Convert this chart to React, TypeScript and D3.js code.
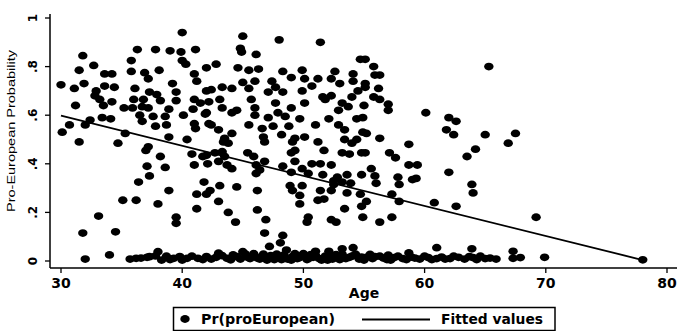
import React from 'react'
import * as d3 from 'd3'

// upper cluster, ages 30-42
const upperYoung: [number, number][] = [
  [40.0, .94], [36.3, .87], [37.8, .87], [39.0, .865], [39.9, .86], [41.1, .87], [31.8, .845], [40.0, .825],
  [40.3, .81], [35.8, .825], [32.7, .805], [42.0, .795], [31.5, .785], [35.8, .78], [36.9, .775], [38.1, .785],
  [33.6, .77], [34.2, .77], [41.0, .77], [37.2, .75], [41.2, .74], [30.0, .725], [31.9, .73], [31.1, .71],
  [33.6, .72], [34.4, .715], [36.1, .71], [39.2, .73], [32.9, .70], [37.3, .695], [39.5, .695], [42.0, .70],
  [32.8, .68], [37.9, .685], [33.2, .665], [36.0, .665], [36.8, .665], [38.2, .66], [39.5, .66], [41.0, .665],
  [41.5, .65], [34.2, .655], [33.5, .64], [31.2, .64], [35.2, .63], [35.9, .63], [36.7, .635], [37.2, .63],
  [38.9, .625], [40.9, .625], [41.9, .605], [36.5, .60], [37.6, .595], [38.6, .595], [40.1, .60], [33.4, .59],
  [34.1, .585], [32.4, .58], [32.0, .56], [30.7, .56], [36.7, .575], [37.8, .555], [38.7, .56], [41.0, .565],
  [41.1, .545], [42.2, .565], [30.1, .53], [35.3, .525], [38.9, .51], [40.4, .50], [31.5, .49], [34.7, .485]
]

// upper cluster, ages 42-55
const upperMiddle: [number, number][] = [
  [45.0, .925], [48.0, .91], [51.4, .90], [44.8, .875], [44.9, .86], [46.1, .85], [54.7, .83], [42.8, .81],
  [44.6, .795], [45.5, .785], [46.3, .79], [48.3, .78], [49.9, .785], [52.6, .78], [54.1, .77], [47.4, .74],
  [49.0, .755], [50.1, .75], [51.2, .75], [52.3, .75], [45.0, .735], [46.0, .74], [54.1, .74], [53.0, .73],
  [42.4, .705], [43.3, .715], [44.1, .71], [45.5, .71], [47.7, .715], [50.7, .72], [47.1, .695], [48.3, .695],
  [49.9, .70], [54.5, .70], [51.6, .675], [51.8, .665], [52.3, .68], [54.0, .675], [42.2, .655], [43.1, .665],
  [45.7, .665], [47.7, .65], [50.1, .65], [53.2, .65], [43.3, .63], [44.5, .62], [46.0, .63], [49.0, .63],
  [53.7, .635], [52.9, .62], [42.0, .61], [44.1, .61], [46.0, .60], [47.9, .61], [47.1, .59], [48.5, .595],
  [49.7, .585], [52.1, .585], [54.4, .585], [42.4, .56], [45.5, .56], [46.6, .545], [47.5, .555], [48.8, .555],
  [51.0, .56], [52.9, .56], [53.4, .54], [54.9, .53], [43.0, .54], [44.1, .525], [43.5, .505], [46.7, .51],
  [48.2, .52], [49.3, .505], [50.1, .51], [51.2, .49], [53.4, .50], [54.4, .50]
]

// upper cluster, ages 55+
const upperOld: [number, number][] = [
  [55.1, .83], [55.8, .80], [55.9, .765], [56.3, .765], [55.1, .73], [55.1, .715], [56.2, .71], [65.3, .80],
  [55.8, .675], [56.3, .665], [57.0, .645], [57.0, .62], [55.0, .64], [54.9, .59], [60.1, .61], [62.0, .59],
  [62.6, .575], [61.8, .54], [62.4, .52], [65.0, .52], [67.5, .525], [66.9, .485], [55.2, .525], [56.3, .505],
  [58.7, .48], [64.2, .46], [63.5, .43]
]

// lower half, below .5
const lowerYoung: [number, number][] = [
  [37.2, .47], [37.0, .455], [38.2, .43], [40.8, .44], [41.7, .43], [37.1, .39], [38.6, .385], [41.0, .395],
  [42.1, .40], [37.3, .35], [36.4, .325], [41.8, .325], [38.9, .29], [41.2, .275], [42.0, .275], [35.1, .25],
  [36.2, .25], [38.0, .235], [41.2, .215], [33.1, .185], [39.5, .18], [39.5, .155], [31.8, .115], [34.5, .12]
]

const lowerMiddle: [number, number][] = [
  [43.4, .49], [43.8, .485], [46.8, .49], [49.1, .49], [51.7, .455], [54.0, .485], [42.0, .435], [42.7, .445],
  [43.3, .45], [43.5, .43], [45.4, .445], [45.9, .43], [49.0, .445], [49.3, .455], [53.2, .445], [53.8, .44],
  [54.8, .445], [43.0, .41], [43.7, .395], [44.1, .38], [46.1, .395], [46.8, .41], [46.4, .375], [48.3, .39],
  [49.3, .41], [49.9, .38], [50.7, .40], [51.4, .40], [52.3, .395], [49.0, .365], [50.4, .36], [51.6, .355],
  [52.8, .345], [53.6, .355], [54.8, .355], [46.1, .36], [52.5, .33], [52.5, .315], [53.2, .325], [53.9, .32],
  [43.1, .31], [44.5, .305], [48.9, .31], [49.9, .31], [42.3, .29], [46.2, .29], [49.1, .29], [51.4, .29],
  [52.3, .29], [53.6, .28], [54.7, .275], [49.7, .27], [43.0, .245], [51.2, .25], [51.7, .255], [49.7, .235],
  [53.4, .215], [54.8, .225], [43.8, .20], [46.2, .21], [50.4, .18], [50.3, .16], [52.3, .17], [52.7, .16],
  [44.4, .16], [46.9, .17], [46.8, .115], [48.3, .105], [47.2, .06], [48.1, .075], [54.9, .18], [51.0, .04],
  [52.1, .04], [53.2, .05], [54.1, .055]
]

const lowerOld: [number, number][] = [
  [57.1, .445], [57.6, .425], [55.1, .445], [58.7, .395], [59.4, .395], [55.6, .38], [55.9, .35], [56.0, .32],
  [57.8, .345], [57.9, .315], [59.0, .335], [59.3, .34], [62.0, .365], [63.9, .315], [64.0, .28], [57.3, .275],
  [57.9, .245], [55.2, .245], [60.8, .24], [62.6, .225], [56.3, .16], [57.3, .18], [61.0, .055], [63.9, .05],
  [67.3, .04], [69.2, .18], [78.0, .005], [69.9, .015]
]

// near-zero floor
const floorPoints: [number, number][] = [
  [32.0, .008], [34.0, .025], [35.7, .008], [36.2, .011], [37.1, .015], [37.3, .018], [37.8, .021], [38.0, .038],
  [38.3, .004], [39.3, .011], [39.8, .018], [40.4, .011], [41.3, .011], [42.0, .018], [42.8, .015], [43.0, .032],
  [43.7, .011], [44.5, .018], [45.0, .038], [45.2, .029], [45.6, .01], [46.0, .02], [46.4, .008], [46.9, .015],
  [47.3, .022], [47.6, .006], [48.0, .014], [48.4, .025], [48.6, .045], [48.7, .008], [49.1, .018], [49.5, .01],
  [49.9, .022], [50.3, .006], [50.8, .015], [51.3, .01], [51.8, .02], [52.4, .008], [52.9, .016], [53.5, .01],
  [54.0, .02], [54.6, .008], [55.2, .015], [55.7, .01], [56.3, .02], [56.9, .006], [57.5, .014], [58.2, .01],
  [58.7, .033], [58.9, .016], [59.6, .008], [60.3, .014], [61.0, .01], [61.4, .016], [62.1, .01], [62.8, .015],
  [63.3, .008], [64.0, .014], [64.6, .02], [65.0, .01], [65.4, .012], [65.9, .008], [67.3, .011], [67.9, .014],
  [44.0, .005], [45.9, .03], [47.0, .004], [49.3, .03], [50.6, .026], [52.0, .004], [53.2, .028], [55.5, .027],
  [57.0, .024]
]

const floorExtra: [number, number][] = [
  [36.6, .012], [38.7, .02], [39.0, .006], [40.0, .004], [40.8, .02], [41.7, .006], [42.4, .008], [43.3, .022],
  [44.2, .025], [44.8, .008], [45.4, .015], [46.2, .012], [46.7, .028], [47.8, .028], [48.2, .006], [49.0, .004],
  [49.7, .014], [50.0, .03], [50.5, .012], [51.0, .024], [51.5, .004], [52.2, .018], [52.7, .026], [53.0, .006],
  [53.8, .015], [54.3, .028], [54.8, .016], [55.0, .004], [55.9, .018], [56.6, .012], [57.2, .004], [57.8, .02],
  [58.5, .006], [59.2, .012], [60.0, .02], [60.6, .006], [61.7, .008], [62.4, .02], [63.7, .018], [64.3, .006]
]

// fitted line end points
const fitAges = [30, 78]
const fitValues = [0.598, 0.004]

const xTicks = [30, 40, 50, 60, 70, 80]
const yTicks = [0, 0.2, 0.4, 0.6, 0.8, 1]
const yTickLabels = ['0', '.2', '.4', '.6', '.8', '1']

const W = 677
const H = 331
const axisX = 50
const axisY = 268
const bold = 'DejaVu Sans, sans-serif'

export default function App() {
  const x = d3.scaleLinear().domain([30, 80]).range([61, 667])
  const y = d3.scaleLinear().domain([0, 1]).range([261, 18])

  const points = [
    ...upperYoung, ...upperMiddle, ...upperOld,
    ...lowerYoung, ...lowerMiddle, ...lowerOld, ...floorPoints, ...floorExtra
  ]

  const line = d3.line<number>()
    .x((_, i) => x(fitAges[i]))
    .y(d => y(d))

  return (
    <svg width={W} height={H} style={{ position: 'absolute', left: 0, top: 0, background: '#fff' }}>
      <rect width={W} height={H} fill="#fff" />

      {/* axes */}
      <line x1={axisX} x2={axisX} y1={14} y2={axisY} stroke="#000" strokeWidth={1.5} />
      <line x1={axisX} x2={W} y1={axisY} y2={axisY} stroke="#000" strokeWidth={1.5} />

      {yTicks.map((t, i) => (
        <g key={'y' + t}>
          <line x1={axisX - 5} x2={axisX} y1={y(t)} y2={y(t)} stroke="#000" strokeWidth={1.3} />
          <text transform={`translate(37,${y(t)}) rotate(-90)`} textAnchor="middle"
            fontFamily={bold} fontWeight="bold" fontSize={12}>{yTickLabels[i]}</text>
        </g>
      ))}
      <text transform="translate(15,131) rotate(-90)" textAnchor="middle"
        fontFamily="Liberation Sans, Arial, sans-serif" fontSize={11.5}
        textLength={162} lengthAdjust="spacingAndGlyphs">Pro-European Probability</text>

      {xTicks.map(t => (
        <g key={'x' + t}>
          <line x1={x(t)} x2={x(t)} y1={axisY} y2={axisY + 5} stroke="#000" strokeWidth={1.3} />
          <text x={x(t)} y={287.5} textAnchor="middle" fontFamily={bold} fontWeight="bold" fontSize={14}>{t}</text>
        </g>
      ))}
      <text x={364} y={298} textAnchor="middle" fontFamily={bold} fontWeight="bold" fontSize={14}>Age</text>

      {/* scatter */}
      {points.map((p, i) => (
        <ellipse key={i} cx={x(p[0])} cy={y(p[1])} rx={4.7} ry={3.9} fill="#000" />
      ))}

      {/* fitted values */}
      <path d={line(fitValues) || ''} fill="none" stroke="#000" strokeWidth={1.8} />

      {/* legend */}
      <rect x={173.5} y={307.5} width={381.5} height={23} fill="#fff" stroke="#000" strokeWidth={1.5} />
      <ellipse cx={185} cy={319} rx={4.7} ry={3.9} fill="#000" />
      <text x={201} y={324} fontFamily={bold} fontWeight="bold" fontSize={14}
        textLength={134} lengthAdjust="spacingAndGlyphs">Pr(proEuropean)</text>
      <line x1={362} x2={430} y1={319.5} y2={319.5} stroke="#000" strokeWidth={2} />
      <text x={441} y={324} fontFamily={bold} fontWeight="bold" fontSize={14}
        textLength={102} lengthAdjust="spacingAndGlyphs">Fitted values</text>
    </svg>
  )
}
